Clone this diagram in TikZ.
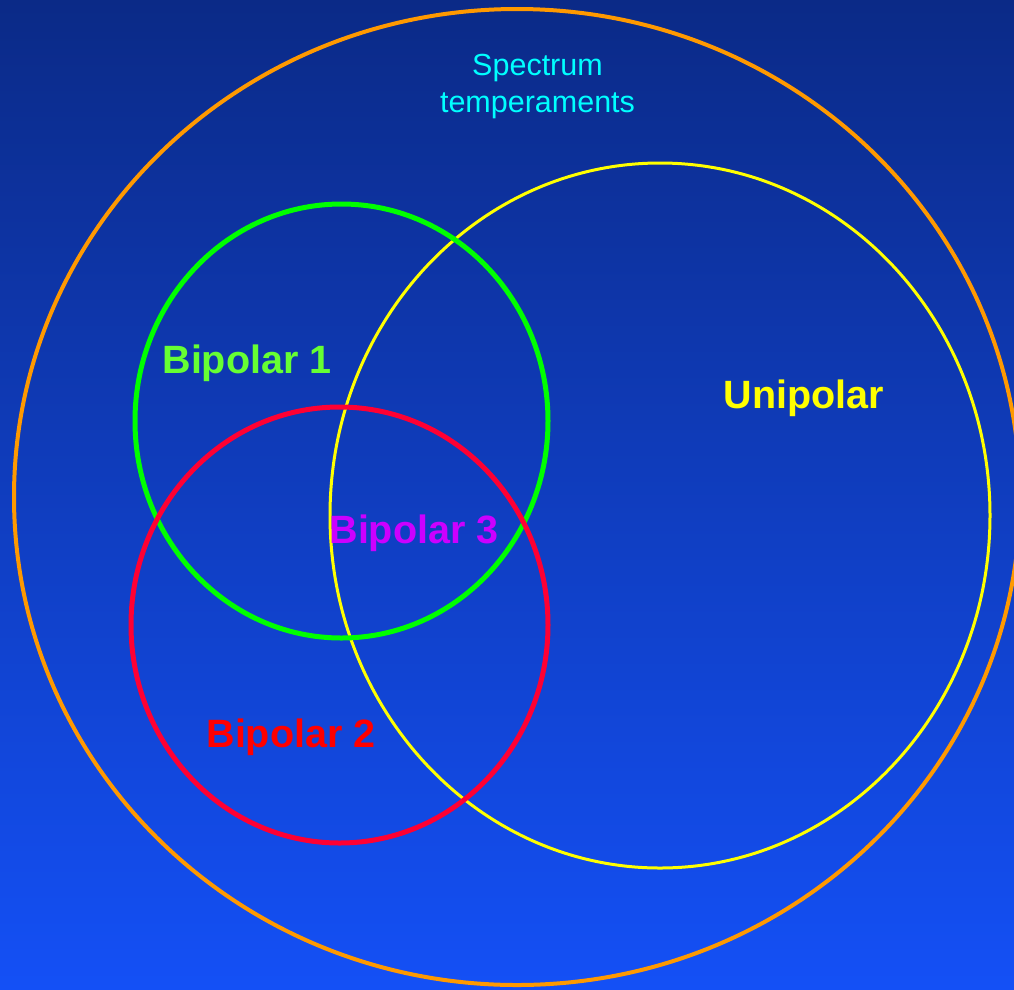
\documentclass[tikz,border=0pt]{standalone}
\usepackage{fontspec}
\setmainfont{Liberation Sans}
\usetikzlibrary{positioning}

\definecolor{bgtop}{RGB}{11,42,135}
\definecolor{bgbot}{RGB}{20,80,246}
\definecolor{ringorange}{RGB}{255,153,0}
\definecolor{ringyellow}{RGB}{255,255,0}
\definecolor{ringgreen}{RGB}{0,255,0}
\definecolor{ringred}{RGB}{255,0,51}
\definecolor{labgreen}{RGB}{102,255,51}
\definecolor{labred}{RGB}{255,0,0}
\definecolor{labmagenta}{RGB}{204,0,255}
\definecolor{labcyan}{RGB}{0,255,255}

\begin{document}
\begin{tikzpicture}[x=1pt,y=-1pt,
    ring/.style={line width=#1},
    grouplabel/.style={font=\fontsize{39.5}{44}\selectfont\bfseries,anchor=base,inner sep=0pt}]
  \useasboundingbox (0,0) rectangle (1014,989);
  \shade[top color=bgtop,bottom color=bgbot] (0,0) rectangle (1014,989);

  % circles
  \draw[ring=4pt,ringorange] (517,497) ellipse [x radius=503,y radius=488];
  \draw[ring=3pt,ringyellow] (660,515.5) ellipse [x radius=330,y radius=352.5];
  \draw[ring=5pt,ringgreen] (341.5,421) ellipse [x radius=206.5,y radius=217];
  \draw[ring=5pt,ringred] (339.5,625) ellipse [x radius=208.5,y radius=218];

  % labels
  \node[font=\fontsize{30.5}{37}\selectfont,text=labcyan,align=center,anchor=base,inner sep=0pt]
    (spectrum) at (537.5,112) {Spectrum\\temperaments};
  \node[grouplabel,text=labgreen] (bipolarone) at (247,373) {Bipolar 1};
  \node[grouplabel,text=ringyellow] (unipolar) at (804,408) {Unipolar};
  \node[grouplabel,text=labmagenta] (bipolarthree) at (414,543) {Bipolar 3};
  \node[grouplabel,text=labred] (bipolartwo) at (291,747) {Bipolar 2};
\end{tikzpicture}
\end{document}
